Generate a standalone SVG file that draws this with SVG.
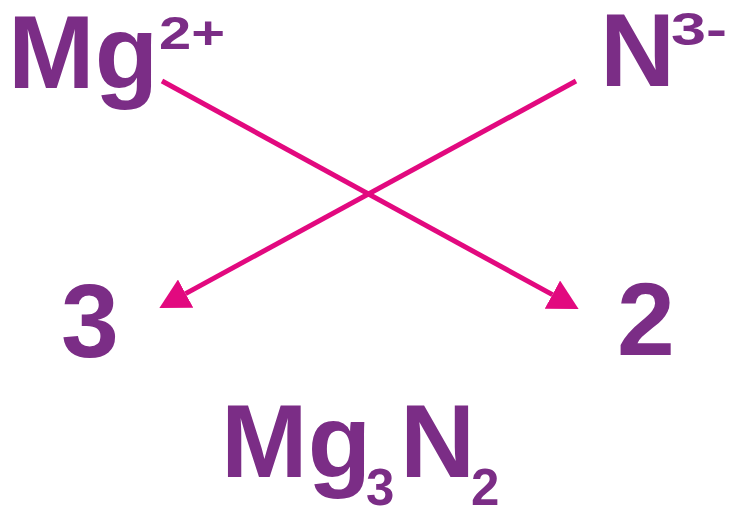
<svg xmlns="http://www.w3.org/2000/svg" width="732" height="509" viewBox="0 0 732 509">
<style>
.t{font-family:"Liberation Sans",Arial,sans-serif;font-weight:bold;fill:#7B2D86}
.big{font-size:104px}
.sm{font-size:46px}
.num{font-size:104px}
.sub{font-size:51px}
.ln{stroke:#E2097F;stroke-width:5;fill:none}
</style>
<defs>
<marker id="ah" markerUnits="userSpaceOnUse" markerWidth="30" markerHeight="32" refX="0" refY="15" orient="auto" viewBox="0 0 28 30">
<path d="M0,0 L28,15 L0,30 Z" fill="#E2097F"/>
</marker>
</defs>
<g id="mg-ion"><text class="t big" x="8" y="88">Mg</text><text class="t sm" x="159" y="49" textLength="66" lengthAdjust="spacingAndGlyphs">2+</text></g>
<g id="n-ion"><text class="t big" x="600" y="86">N</text><text class="t sm" x="671" y="45" textLength="56" lengthAdjust="spacingAndGlyphs">3-</text></g>
<g id="num3"><text class="t num" x="90" y="357" text-anchor="middle">3</text></g>
<g id="num2"><text class="t num" x="646" y="355" text-anchor="middle">2</text></g>
<g id="formula"><text class="t big" x="221" y="477">Mg</text><text class="t sub" x="366" y="505">3</text><text class="t big" x="400" y="477">N</text><text class="t sub" x="471" y="505">2</text></g>
<g id="connectors">
<line class="ln" x1="162" y1="81" x2="552.4" y2="294.6" marker-end="url(#ah)"/>
<line class="ln" x1="576" y1="81" x2="185.6" y2="293.6" marker-end="url(#ah)"/>
</g>
</svg>
